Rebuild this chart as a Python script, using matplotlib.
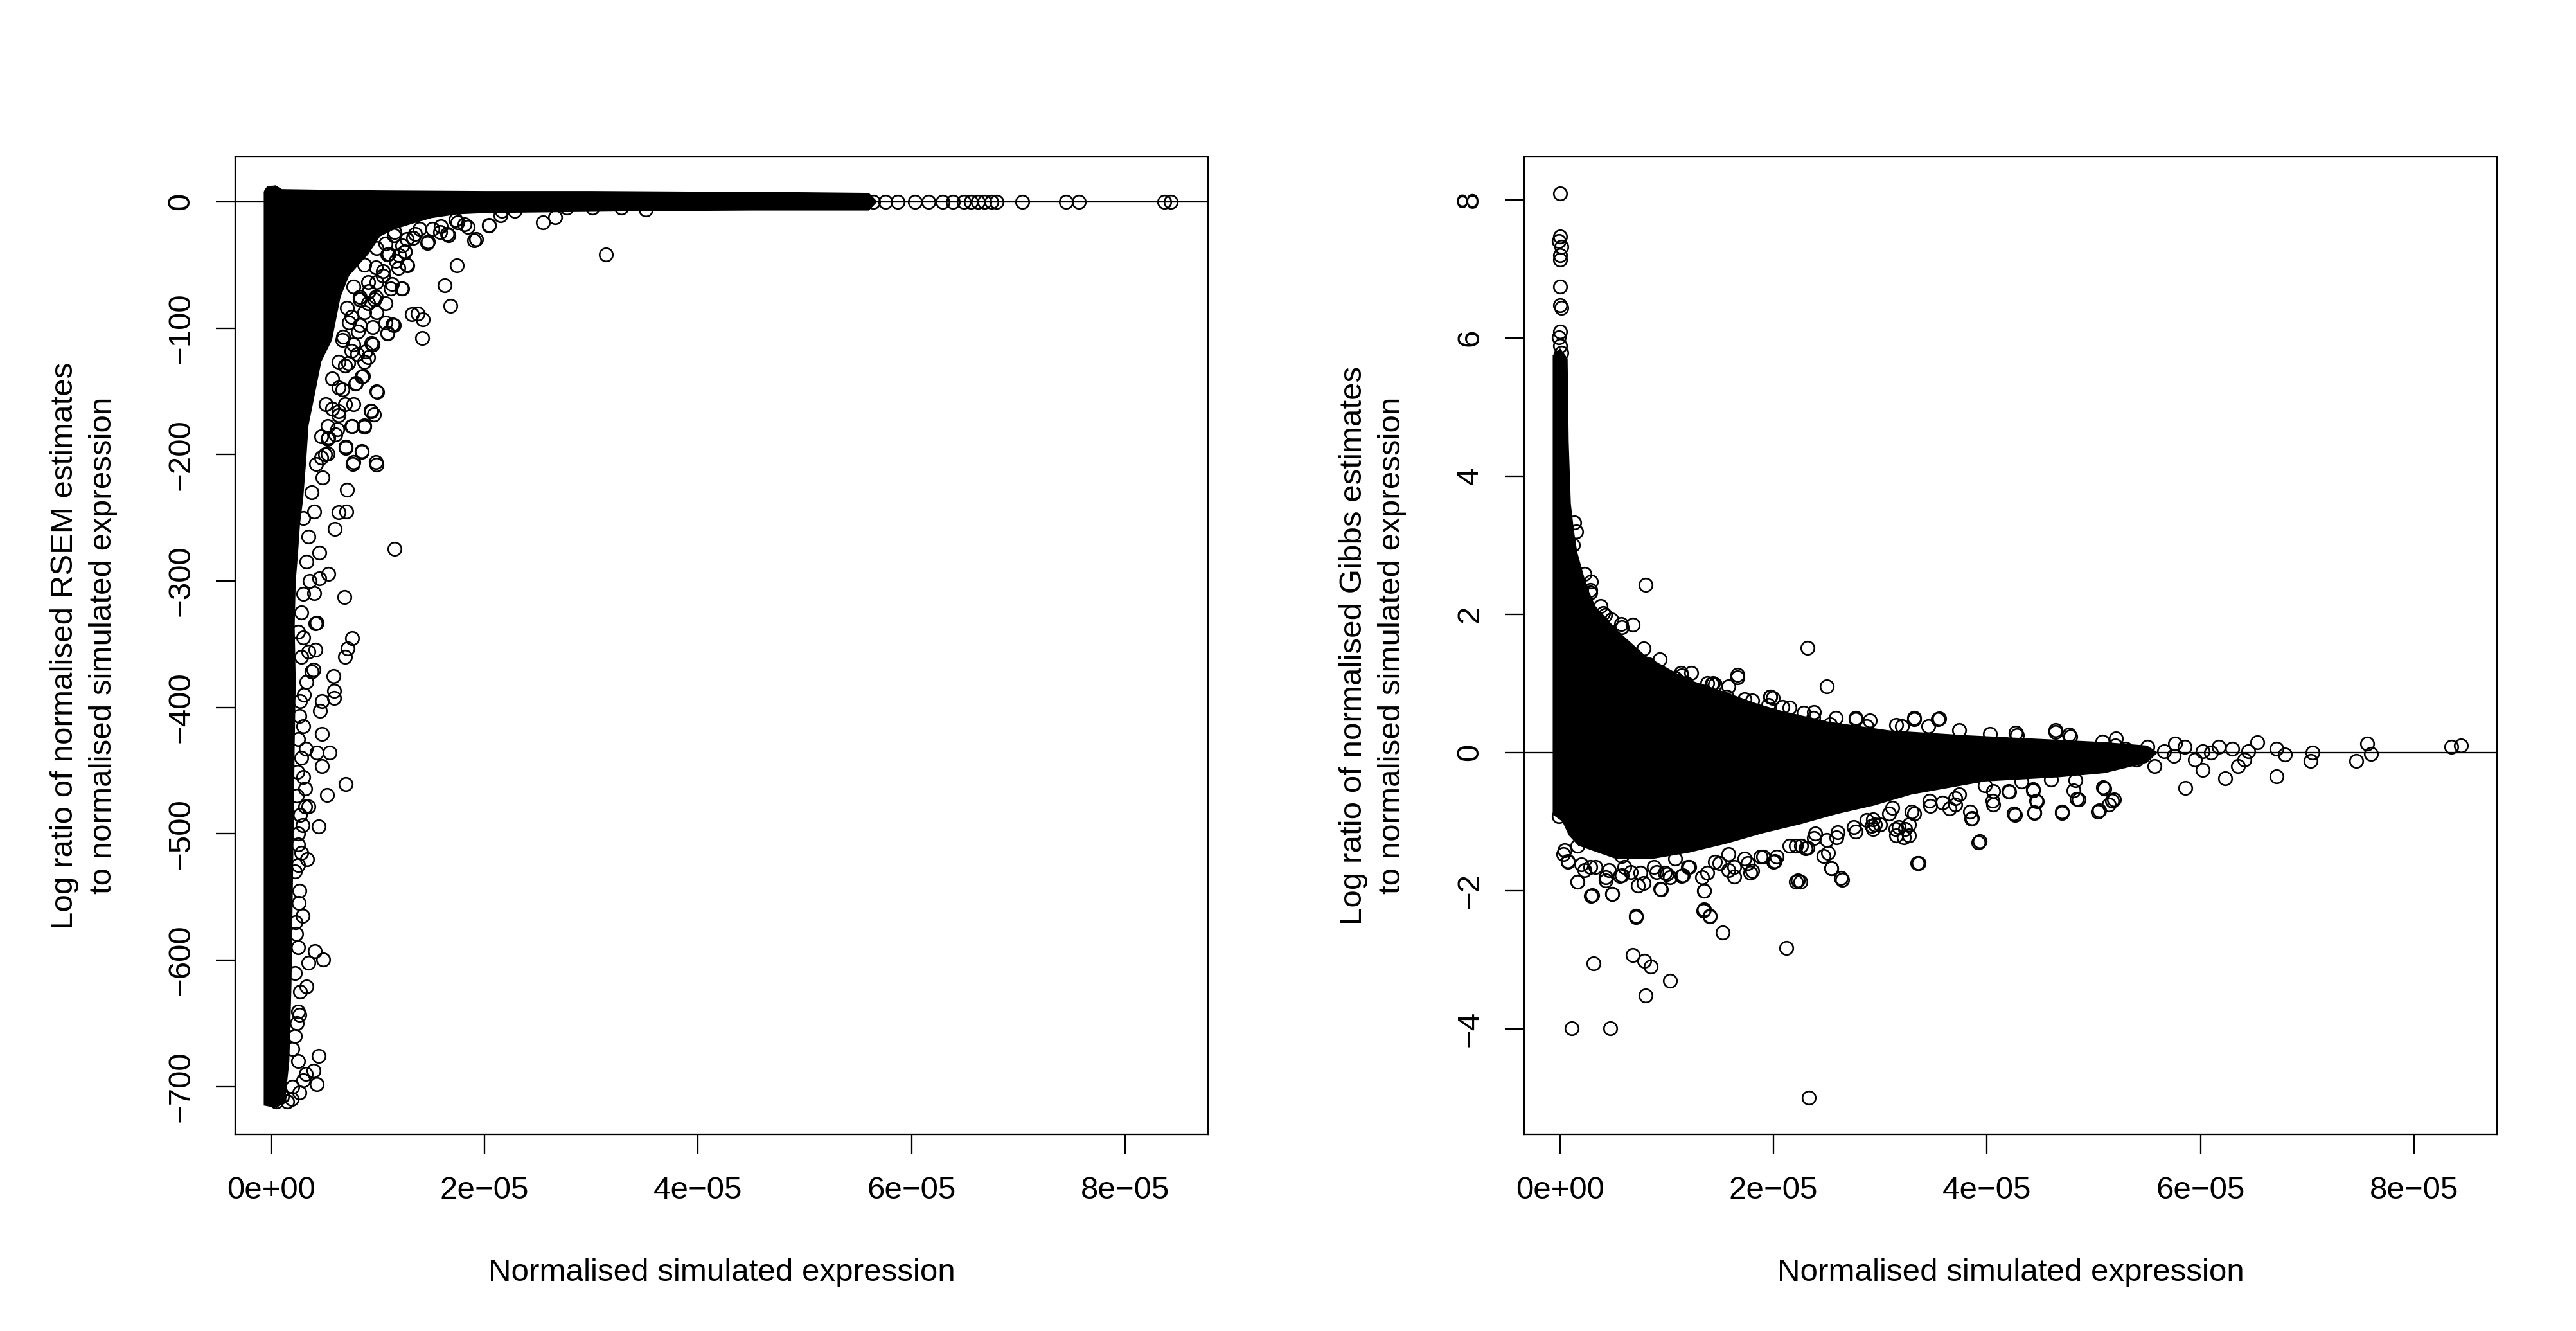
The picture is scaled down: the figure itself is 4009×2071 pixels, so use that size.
import numpy as np
import matplotlib
matplotlib.use("Agg")
import matplotlib.pyplot as plt

plt.rcParams['font.family'] = ['Liberation Sans', 'DejaVu Sans']

E = 1e-5

# ---------------- Left panel: RSEM ----------------
# outline of the saturated (solid black) mass of points, x in 1e-5 units
rsem_core_x = np.array([-0.07, -0.04, 0.04, 0.10, 0.5, 1.0, 2.0, 3.0, 4.0, 5.0, 5.6, 5.68,
                        5.6, 4.5, 3.5, 2.5, 2.0, 1.74, 1.5, 1.3, 1.15, 1.02, 0.91, 0.82,
                        0.73, 0.65, 0.61, 0.57, 0.47, 0.43, 0.39, 0.35, 0.33, 0.30, 0.27,
                        0.25, 0.23, 0.22, 0.23, 0.22, 0.21, 0.20, 0.19, 0.17, 0.13,
                        0.05, -0.07]) * E
rsem_core_y = np.array([8, 12, 13, 10, 9.5, 9, 8.5, 8.5, 8, 7.5, 7, 0,
                        -7, -7, -7.5, -8.5, -9, -10, -13, -18, -22, -27.5, -41.6, -50,
                        -58.6, -75.5, -92.5, -109.5, -126.5, -143.5, -160.4, -177, -202.6, -235, -255,
                        -280, -300, -336, -380, -430, -500, -560, -620, -680, -712,
                        -717, -715])

# individual points (clearly separated ones), x in 1e-5 units
rsem_pts_x = np.array([
    0.0, 5.64, 5.755, 5.87, 6.03, 6.16, 6.29, 6.39, 6.49, 6.555, 6.62, 6.685, 6.75, 6.8,
    7.04, 7.45, 7.57, 8.37, 8.43,
    3.139, 1.737, 1.625, 1.682, 1.90, 2.04, 2.545, 2.66, 1.464, 1.66, 1.416, 1.418, 1.316,
    1.37, 1.222, 1.273, 1.249, 1.139, 1.087, 0.993, 0.94, 0.872, 0.76, 0.848, 0.984, 0.767,
    0.695, 0.713, 1.157, 0.687, 0.703, 0.63, 0.595, 0.454, 0.536, 0.795, 0.858, 1.84,
    1.585, 1.33, 1.195, 1.13, 0.96, 0.63, 0.617, 0.804, 0.886, 0.94, 0.724, 0.671, 0.75,
    0.832, 0.966, 0.912, 1.047, 1.10, 1.153, 1.746, 2.163, 2.284, 2.767, 3.008, 3.28,
    3.51, 0.454, 0.40, 0.428, 0.483, 0.508, 0.536,
    0.761, 0.717, 0.69, 0.583, 0.587, 0.587, 0.476, 0.456, 0.697, 0.522, 0.546, 0.426,
    0.478, 0.476, 0.396, 0.416, 0.416, 0.346, 0.446, 0.336, 0.296, 0.406, 0.486, 0.346,
    0.33, 0.446, 0.426, 0.396, 0.266, 0.255, 0.326, 0.195, 0.045, 0.0, 0.316, 0.266,
    0.255, 0.235, 0.296, 0.346, 0.376, 0.305, 0.266, 0.326, 0.245, 0.316, 0.255, 0.266,
    0.225]) * E
rsem_pts_y = np.array([
    7.0, 0, 0, 0, 0, 0, 0, 0, 0, 0, 0, 0, 0, 0,
    0, 0, 0, 0, 0,
    -42.0, -50.4, -66.3, -82.4, -30.4, -18.5, -16.3, -12.3, -32.6, -26.5, -107.9, -93.1, -89.0,
    -88.6, -68.5, -50.4, -39.0, -97.0, -103.8, -150.4, -165.8, -177.2, -177.6, -198.0, -207.9, -207.6,
    -194.0, -228.0, -274.5, -312.6, -245.0, -245.8, -259.0, -277.5, -294.7, -143.6, -137.9, -19.7,
    -24.2, -28.8, -42.4, -65.0, -168.5, -166.0, -180.0, -120.7, -118.5, -111.8, -127.6, -107.0, -91.0,
    -77.6, -77.6, -70.8, -54.9, -41.2, -24.2, -16.3, -7.1, -7.1, -4.9, -4.9, -4.9,
    -6.1, -298.0, -309.6, -333.0, -218.4, -200.0, -186.8,
    -345.4, -353.2, -359.8, -375.4, -387.2, -392.4, -395.0, -402.8, -460.8, -469.4, -436.0, -436.0,
    -446.5, -421.0, -370.0, -354.5, -333.5, -478.6, -494.3, -520.0, -564.7, -592.7, -599.3, -602.1,
    -621.0, -675.8, -698.0, -687.6, -704.5, -640.5, -690.0, -709.8, -712.0, -709.0, -478.6, -545.0,
    -525.0, -579.0, -493.0, -356.0, -371.5, -389.8, -406.8, -432.8, -451.0, -464.3, -508.6, -643.0,
    -660.0])

# overlapping points along the edge of the dense mass, x in 1e-5 units
rsem_edge_x = np.array([
    1.47, 1.92, 2.04, 1.81, 1.65, 1.35, 1.25, 1.27, 1.23, 1.12, 1.19, 1.05, 0.98, 1.07,
    1.15, 1.09, 0.95, 0.91, 0.85, 0.79, 0.67, 0.69, 0.63, 0.75, 0.87, 0.93, 0.99, 0.70,
    0.85, 0.77, 0.98, 0.60, 0.53, 0.75, 0.81, 0.73, 0.87, 0.83, 0.91, 0.98, 1.09, 1.23,
    1.39, 1.59, 1.73, 2.15, 0.51, 0.57, 0.63, 0.67, 0.71, 0.77, 0.87, 0.99, 1.15, 0.47,
    0.42, 0.53,
    1.07, 1.27, 1.51, 1.17, 0.99, 0.91, 0.83, 0.77, 0.69, 0.63, 0.57, 0.53, 0.47, 0.77,
    0.87, 0.95, 0.99, 1.07,
    0.25, 0.30, 0.28, 0.33, 0.27, 0.30, 0.25, 0.28, 0.30, 0.24, 0.27, 0.25, 0.28, 0.22,
    0.26, 0.23, 0.25, 0.22, 0.27, 0.24, 0.20, 0.25, 0.30, 0.20, 0.15, 0.10, 0.30, 0.35,
    0.33, 0.30, 0.28, 0.38, 0.40, 0.36]) * E
rsem_edge_y = np.array([
    -31.4, -29.7, -18.7, -17.8, -25.5, -25.5, -39.9, -50.0, -68.7, -68.7, -52.6, -58.6, -75.5, -95.8,
    -97.6, -104.4, -112.9, -123.0, -138.3, -144.0, -148.5, -160.4, -168.9, -177.3, -178.2, -165.5, -150.2, -195.0,
    -197.6, -206.0, -206.0, -184.0, -199.4, -118.0, -102.7, -95.8, -87.4, -75.5, -63.6, -51.8, -41.6, -34.7,
    -21.2, -19.4, -14.4, -11.0, -160.4, -140.0, -126.5, -109.5, -84.0, -67.0, -50.0, -36.5, -26.3, -185.8,
    -207.7, -177.3,
    -33.0, -29.5, -21.2, -46.7, -63.6, -80.5, -97.6, -112.9, -129.8, -146.8, -163.8, -187.5, -202.6, -160.4,
    -126.5, -99.3, -87.4, -80.5,
    -340, -345, -360, -380, -395, -415, -425, -440, -455, -470, -485, -500, -515, -530,
    -555, -570, -590, -610, -625, -650, -670, -680, -695, -700, -712, -708, -250, -265,
    -285, -310, -325, -230, -245, -300])

# ---------------- Right panel: Gibbs ----------------
gibbs_core_x = np.array([-0.07, 0.0, 0.07, 0.08, 0.10, 0.13, 0.16, 0.25, 0.33, 0.54, 0.8, 1.19,
                         1.5, 1.84, 2.08, 2.5, 3.08, 3.8, 4.45, 5.1, 5.5, 5.6, 5.5, 5.1,
                         4.67, 3.98, 3.29, 2.94, 2.6, 2.25, 1.90, 1.56, 1.21, 0.87, 0.52,
                         0.17, 0.08, 0.02, -0.07]) * E
gibbs_core_y = np.array([5.75, 5.85, 5.7, 4.5, 3.6, 3.2, 2.9, 2.4, 2.12, 1.76, 1.4, 1.06,
                         0.9, 0.71, 0.6, 0.45, 0.32, 0.25, 0.2, 0.15, 0.1, 0.0, -0.15, -0.3,
                         -0.36, -0.42, -0.61, -0.77, -0.89, -1.04, -1.17, -1.32, -1.45, -1.54, -1.54,
                         -1.35, -1.2, -1.0, -0.9])

gibbs_pts_x = np.array([
    0.0, 0.0, -0.01, 0.01, 0.0, 0.0, 0.0, 0.0, 0.01, 0.0, -0.01, 0.0, 0.01,
    0.13, 0.29, 0.28, 0.42, 0.40, 0.57, 0.68, 0.80, 1.14, 1.45, 1.66, 1.99, 1.97, 2.32,
    2.50, 2.77, 3.32, 3.54, 0.83, 1.13, 1.43, 4.28, 4.64, 4.78,
    0.07, 0.16, 0.23, 0.29, 0.43, 0.485, 0.58, 0.78, 0.945, 0.98, 1.15, 1.33, 1.35, 1.58,
    1.78, 2.0, 2.21, 2.25, 2.26, 2.47, 2.50, 2.54, 2.64, 2.93, 2.93, 3.0, 3.14, 3.23, 3.27,
    3.35, 3.65, 3.70,
    0.11, 0.47, 0.31, 0.68, 0.71, 0.79, 0.85, 0.80, 1.03, 1.34, 1.40, 1.52, 2.12, 2.33,
    3.85, 3.92, 4.06, 4.21, 4.26, 4.43, 4.44, 4.47, 4.70, 4.83, 4.86, 5.04, 5.09, 5.14,
    5.19, 5.57, 5.66, 5.76, 5.86, 6.02, 6.02, 6.17, 6.23, 6.35, 6.41, 6.45, 6.53, 6.71,
    6.71, 6.79, 7.03, 7.05, 7.46, 7.56, 7.60, 8.35, 8.44,
    5.2, 5.3, 5.4, 5.5, 5.75, 5.85, 5.95, 6.1, 6.3]) * E
gibbs_pts_y = np.array([
    8.09, 7.47, 7.40, 7.32, 7.20, 7.13, 6.74, 6.47, 6.43, 6.09, 6.01, 5.89, 5.78,
    3.33, 2.47, 2.31, 1.99, 2.02, 1.86, 1.85, 2.43, 1.11, 0.98, 1.12, 0.79, 0.81, 1.51,
    0.96, 0.48, 0.48, 0.48, 1.27, 1.15, 1.00, 0.25, 0.30, 0.23,
    -1.58, -1.87, -1.70, -2.08, -1.81, -2.05, -1.78, -1.89, -1.98, -1.74, -1.78, -1.81, -2.0, -1.70,
    -1.74, -1.58, -1.87, -1.87, -1.35, -1.50, -1.27, -1.68, -1.84, -1.11, -0.97, -1.04, -1.11, -1.11, -1.2,
    -1.60, -0.81, -0.66,
    -3.99, -3.99, -3.05, -2.93, -2.38, -3.02, -3.10, -3.52, -3.30, -2.29, -2.37, -2.61, -2.83, -5.0,
    -0.96, -1.30, -0.76, -0.57, -0.90, -0.53, -0.88, -0.71, -0.88, -0.40, -0.68, -0.86, -0.50, -0.76,
    -0.68, -0.2, 0.02, 0.13, -0.51, -0.25, 0.02, 0.08, -0.37, -0.2, -0.1, 0.02, 0.15, 0.05,
    -0.35, -0.03, -0.12, 0.0, -0.12, 0.13, -0.02, 0.08, 0.10,
    0.1, 0.05, -0.1, 0.08, -0.05, 0.08, -0.1, 0.0, 0.05])

# overlapping points along the edge of the dense mass, x in 1e-5 units
gibbs_edge_x = np.array([
    0.072, 0.16, 0.30, 0.49, 0.71, 1.35, 1.40, 1.35, 0.94, 0.73, 0.43, 0.28, 0.56, 1.0,
    1.14, 1.63, 1.80, 2.01, 2.23, 2.63, 2.54, 2.51, 2.32, 2.21, 2.77, 2.92, 3.17, 3.22,
    3.27, 3.36, 3.93, 3.86, 3.84, 3.70, 3.46, 3.29, 3.11, 4.05, 4.06, 4.25, 4.20, 4.44,
    4.46, 4.43, 4.70, 4.84, 4.81, 5.05, 5.17, 5.10, 4.60, 4.32, 3.98, 3.74, 2.87, 2.59,
    2.39, 1.90, 1.76, 1.49, 1.21, 0.90, 0.66, 0.04, -0.01,
    1.66, 1.42, 1.97, 1.80, 2.28, 2.37, 2.77, 3.32, 3.55, 3.15, 3.74, 4.03, 4.27, 4.64,
    4.77, 5.08, 5.21, 2.87, 1.11, 1.28, 1.56, 2.08, 2.53,
    0.12, 0.15, 0.23, 0.28, 0.51, 0.58, 0.65, 0.88, 1.08, 1.18, 1.33, 1.53,
    0.03, 0.20, 0.33, 0.455, 0.60, 0.75, 0.88, 1.03, 1.20, 1.38, 1.45, 1.63, 1.73, 1.88,
    2.03, 2.15, 2.30, 2.38, 2.60, 2.75, 2.95, 3.08, 3.15, 3.32, 3.47, 3.58,
    0.16, 0.58, 1.08, 1.58,
    0.20, 0.38, 0.48, 0.58, 0.78, 0.93, 1.23, 1.38, 1.58, 1.73, 1.95, 2.15, 2.38, 2.58,
    2.90, 3.20, 3.45]) * E
gibbs_edge_y = np.array([
    -1.57, -1.87, -2.07, -2.05, -2.36, -2.27, -2.36, -2.0, -1.97, -1.93, -1.85, -1.66, -1.79, -1.76,
    -1.79, -1.80, -1.71, -1.57, -1.85, -1.82, -1.68, -1.45, -1.38, -1.35, -1.15, -1.06, -1.08, -1.23,
    -1.04, -1.60, -1.29, -0.95, -0.86, -0.76, -0.70, -0.86, -0.80, -0.70, -0.56, -0.89, -0.56, -0.87,
    -0.70, -0.55, -0.86, -0.67, -0.55, -0.84, -0.70, -0.52, -0.39, -0.42, -0.48, -0.61, -0.98, -1.23,
    -1.17, -1.51, -1.60, -1.60, -1.66, -1.73, -1.73, -1.42, -0.92,
    1.09, 0.99, 0.81, 0.75, 0.57, 0.50, 0.50, 0.50, 0.49, 0.40, 0.32, 0.27, 0.29, 0.32,
    0.26, 0.16, 0.20, 0.38, 1.03, 0.86, 0.81, 0.66, 0.41,
    3.0, 3.2, 2.58, 2.35, 1.65, 1.5, 1.31, 1.12, 1.08, 1.0, 0.88, 0.77,
    -1.47, -1.62, -1.66, -1.70, -1.66, -1.74, -1.66, -1.81, -1.66, -1.74, -1.58, -1.66, -1.54, -1.51,
    -1.51, -1.35, -1.39, -1.24, -1.16, -1.08, -1.04, -0.89, -1.2, -0.89, -0.77, -0.73,
    -1.35, -1.5, -1.54, -1.47,
    2.35, 2.12, 1.92, 1.81, 1.5, 1.35, 1.15, 1.0, 0.96, 0.77, 0.69, 0.65, 0.58, 0.5,
    0.46, 0.38, 0.38])

x_ticks = [0, 2e-5, 4e-5, 6e-5, 8e-5]
x_tick_labels = ['0e+00', '2e\u221205', '4e\u221205', '6e\u221205', '8e\u221205']
rsem_y_ticks = [0, -100, -200, -300, -400, -500, -600, -700]
gibbs_y_ticks = [-4, -2, 0, 2, 4, 6, 8]

x_label = 'Normalised simulated expression'
rsem_y_label = ['Log ratio of normalised RSEM estimates', 'to normalised simulated expression']
gibbs_y_label = ['Log ratio of normalised Gibbs estimates', 'to normalised simulated expression']

# ---------------- Figure ----------------
W, H = 4009, 2071
fig = plt.figure(figsize=(W / 100, H / 100), dpi=100)
FS = 35.5
LW = 1.65


def fmt_num(v):
    s = f'{v:g}'
    return s.replace('-', '\u2212')


def make_panel(left_px, core_x, core_y, pts, yticks, ylim, ylab):
    box_top, box_bot = 244, 1765
    ax = fig.add_axes([left_px / W, 1 - box_bot / H, 1514 / W, (box_bot - box_top) / H])
    ax.fill(core_x, core_y, color='black', lw=0, zorder=2)
    for px_, py_ in pts:
        ax.plot(px_, py_, 'o', ls='none', mfc='none', mec='black', ms=14.8, mew=1.9, zorder=3)
    ax.axhline(0, color='black', lw=LW, zorder=4)
    ax.set_xlim(-0.3376e-5, 8.778e-5)
    ax.set_ylim(*ylim)
    ax.set_xticks(x_ticks)
    ax.set_xticklabels(x_tick_labels)
    ax.set_yticks(yticks)
    ax.set_yticklabels([fmt_num(v) for v in yticks])
    for sp in ax.spines.values():
        sp.set_linewidth(LW)
    ax.tick_params(axis='both', direction='out', length=21.6, width=LW, labelsize=FS)
    ax.tick_params(axis='x', pad=25)
    ax.tick_params(axis='y', pad=23)
    for lab in ax.get_yticklabels():
        lab.set_rotation(90)
        lab.set_va('center')
    ax.set_xlabel(x_label, fontsize=FS)
    ax.xaxis.label.set_va('baseline')
    ax.xaxis.set_label_coords(0.5, (box_bot - 1993) / (box_bot - box_top))
    cy = 1 - (box_top + box_bot) / 2 / H
    off = left_px - 366
    for base_x, line in zip([113, 173], ylab):
        fig.text((base_x + off) / W, cy, line, rotation=90, rotation_mode='anchor',
                 ha='center', va='baseline', fontsize=FS)
    return ax


make_panel(366, rsem_core_x, rsem_core_y,
           [(rsem_pts_x, rsem_pts_y), (rsem_edge_x, rsem_edge_y)],
           rsem_y_ticks, (-737.8, 35.5), rsem_y_label)
make_panel(2372, gibbs_core_x, gibbs_core_y,
           [(gibbs_pts_x, gibbs_pts_y), (gibbs_edge_x, gibbs_edge_y)],
           gibbs_y_ticks, (-5.527, 8.62), gibbs_y_label)

fig.savefig('out.png', dpi=100, facecolor='white')
